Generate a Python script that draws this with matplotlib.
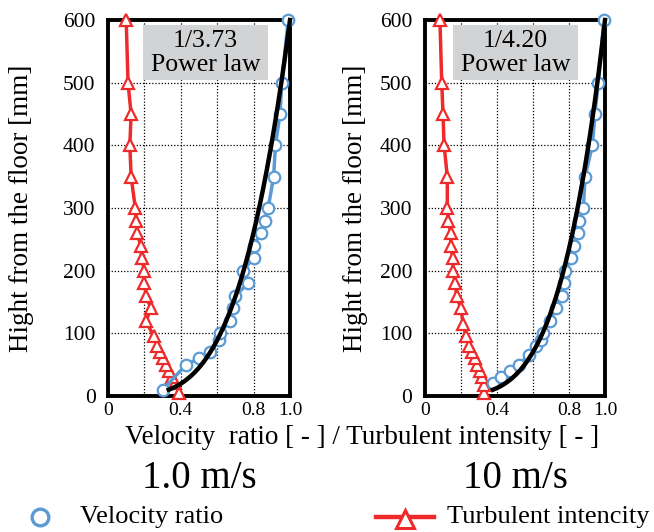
import numpy as np
import matplotlib
matplotlib.use("Agg")
import matplotlib.pyplot as plt
from matplotlib.lines import Line2D
from matplotlib.patches import Rectangle

plt.rcParams['font.family'] = ['Liberation Serif', 'DejaVu Serif']

# ---- data: 1.0 m/s ----
vel_h_1 = [10, 50, 60, 70, 90, 100, 120, 140, 160, 180, 200, 220, 240, 260, 280, 300, 350, 400, 450, 500, 600]
vel_r_1 = [0.30, 0.43, 0.50, 0.56, 0.61, 0.615, 0.67, 0.685, 0.70, 0.77, 0.74, 0.80, 0.80, 0.84, 0.86, 0.88, 0.91, 0.92, 0.945, 0.955, 0.99]
ti_h_1 = [5, 20, 30, 40, 50, 60, 70, 80, 95, 120, 140, 160, 180, 200, 220, 240, 260, 280, 300, 350, 400, 450, 500, 600]
ti_v_1 = [0.39, 0.37, 0.35, 0.335, 0.32, 0.30, 0.285, 0.27, 0.25, 0.21, 0.235, 0.21, 0.20, 0.20, 0.185, 0.18, 0.16, 0.155, 0.15, 0.127, 0.12, 0.127, 0.11, 0.10]
power_1 = 3.73

# ---- data: 10 m/s ----
vel_h_2 = [20, 30, 40, 50, 65, 80, 90, 100, 120, 140, 160, 180, 200, 220, 240, 260, 280, 300, 350, 400, 450, 500, 600]
vel_r_2 = [0.38, 0.42, 0.47, 0.52, 0.576, 0.617, 0.644, 0.657, 0.694, 0.728, 0.76, 0.77, 0.778, 0.81, 0.828, 0.85, 0.857, 0.88, 0.889, 0.93, 0.944, 0.963, 0.994]
ti_h_2 = [5, 17, 30, 40, 50, 60, 70, 80, 95, 115, 140, 160, 180, 200, 220, 240, 260, 280, 300, 350, 400, 450, 500, 600]
ti_v_2 = [0.328, 0.325, 0.315, 0.305, 0.29, 0.278, 0.26, 0.246, 0.228, 0.213, 0.198, 0.176, 0.167, 0.157, 0.154, 0.143, 0.143, 0.13, 0.124, 0.124, 0.106, 0.10, 0.093, 0.083]
power_2 = 4.20

speeds = ['1.0 m/s', '10 m/s']
box_labels = ['1/3.73\nPower law', '1/4.20\nPower law']
xticks = [0, 0.2, 0.4, 0.6, 0.8, 1.0]
xticklabels = ['0', '', '0.4', '', '0.8', '1.0']
yticks = [0, 100, 200, 300, 400, 500, 600]

BLUE = '#5b9bd5'
RED = '#ee2a2a'
W, H = 654, 532

fig = plt.figure(figsize=(W/100, H/100), dpi=100)

def panel(x0, x1, vh, vr, th, tv, p, label, speed, bx0, bx1, ylab_x):
    ax = fig.add_axes([x0/W, (H-396)/H, (x1-x0)/W, 376/H])
    ax.set_xlim(0, 1.0)
    ax.set_ylim(0, 600)
    ax.set_xticks(xticks)
    ax.set_xticklabels(xticklabels)
    ax.set_yticks(yticks)
    ax.tick_params(axis='both', length=0)
    ax.tick_params(axis='y', labelsize=15.5, pad=9)
    ax.tick_params(axis='x', labelsize=14, pad=4)
    ax.grid(True, linestyle=(0, (1, 1.5)), color='black', linewidth=0.9)
    for s in ax.spines.values():
        s.set_linewidth(2.8)
    ax.plot(tv, th, color=RED, lw=2.5, marker='^', ms=9, mfc='white', mec=RED, mew=1.6,
            clip_on=False, zorder=3)
    ax.plot(vr, vh, color=BLUE, lw=2.5, marker='o', ms=8.3, mfc='white', mec=BLUE, mew=1.6,
            clip_on=False, zorder=3)
    z = np.linspace(10, 600, 200)
    ax.plot((z/600)**(1/p), z, color='black', lw=3.2, zorder=4, clip_on=False)
    # gray label box
    bx0d = (bx0-x0)/(x1-x0)
    bx1d = (bx1-x0)/(x1-x0)
    ax.add_patch(Rectangle((bx0d, 504), bx1d-bx0d, 88, fc='#d2d3d5', ec='none', zorder=2.5))
    ax.text((bx0d+bx1d)/2, 548, label, ha='center', va='center', fontsize=18.5,
            linespacing=1.12, zorder=5)
    ax.set_ylabel('Hight from the floor [mm]', fontsize=19.5, va='center')
    ax.yaxis.set_label_coords((ylab_x-x0)/(x1-x0), 0.5)
    ax.set_axisbelow(True)
    fig.text((x0+x1)/2/W, 1-478/H, speed, ha='center', va='center', fontsize=28)
    return ax

ax1 = panel(108, 290, vel_h_1, vel_r_1, ti_h_1, ti_v_1, power_1,
            box_labels[0], speeds[0], 143, 268, 22)
ax2 = panel(425, 605, vel_h_2, vel_r_2, ti_h_2, ti_v_2, power_2,
            box_labels[1], speeds[1], 453, 578, 355)

fig.text(362/W, 1-437/H, 'Velocity  ratio [ - ] / Turbulent intensity [ - ]',
         ha='center', va='center', fontsize=19.5)

# legend row
lax = fig.add_axes([0, 0, 1, 1], facecolor='none')
lax.set_xlim(0, W)
lax.set_ylim(H, 0)
lax.axis('off')
lax.add_line(Line2D([40], [517], marker='o', ms=12, mfc='white', mec=BLUE, mew=2.4, ls='none'))
lax.text(80, 517, 'Velocity ratio', fontsize=19, va='center', ha='left')
lax.add_line(Line2D([376, 434], [517, 517], color=RED, lw=3.2))
lax.add_line(Line2D([405], [519], marker='^', ms=13, mfc='white', mec=RED, mew=2.2, ls='none'))
lax.text(447, 517, 'Turbulent intencity', fontsize=19, va='center', ha='left')

fig.savefig('out.png', dpi=100)
